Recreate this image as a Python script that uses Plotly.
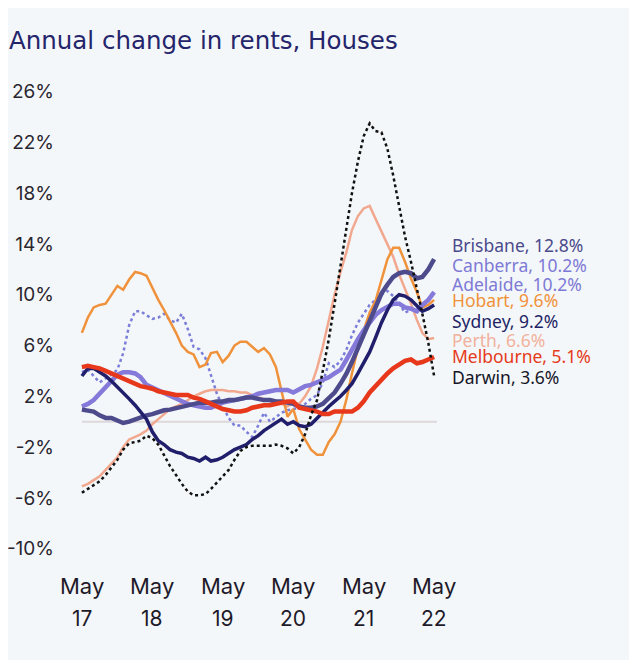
import pandas as pd
import plotly.graph_objects as go

months = pd.date_range("2017-05-01", "2022-05-01", freq="MS")

sydney = [3.6, 4.2, 4.2, 3.9, 3.6, 3.2, 2.7, 2.2, 1.8, 1.3,
          0.8, 0.2, -0.8, -1.5, -1.8, -2.2, -2.4, -2.5, -2.8, -2.9,
          -3.1, -2.8, -3.1, -3.0, -2.8, -2.5, -2.2, -2.0, -1.8, -1.4,
          -1.1, -0.7, -0.4, -0.1, 0.2, -0.2, 0.0, -0.3, -0.4, -0.2,
          0.3, 0.8, 1.2, 1.6, 2.0, 2.5, 3.0, 3.8, 4.7, 5.5,
          6.6, 7.8, 8.8, 9.6, 10.0, 9.9, 9.6, 9.1, 8.7, 8.9,
          9.2]
melbourne = [4.3, 4.4, 4.3, 4.2, 4.0, 3.8, 3.6, 3.4, 3.2, 3.0,
             2.8, 2.7, 2.6, 2.4, 2.3, 2.2, 2.1, 2.1, 2.1, 1.9,
             1.8, 1.6, 1.4, 1.2, 1.0, 0.9, 0.8, 0.8, 0.9, 1.1,
             1.2, 1.3, 1.3, 1.4, 1.5, 1.6, 1.6, 1.1, 1.0, 0.9,
             0.8, 0.6, 0.6, 0.8, 0.8, 0.8, 0.8, 1.1, 1.6, 2.3,
             2.8, 3.3, 3.8, 4.2, 4.5, 4.8, 4.9, 4.6, 4.7, 4.9,
             5.1]
hobart = [7.0, 8.2, 9.0, 9.2, 9.3, 10.0, 10.7, 10.4, 11.2, 11.8,
          11.7, 11.5, 10.5, 9.6, 8.8, 7.9, 7.0, 6.0, 5.5, 5.3,
          4.3, 4.5, 5.4, 5.5, 4.7, 5.2, 6.0, 6.3, 6.3, 5.9,
          5.5, 5.8, 5.3, 4.3, 2.3, 0.4, 1.0, -0.6, -1.4, -2.2,
          -2.6, -2.6, -1.6, -1.0, 0.0, 1.8, 3.8, 5.8, 7.2, 8.6,
          9.5, 11.2, 12.8, 13.7, 13.7, 12.6, 11.3, 10.2, 9.0, 9.2,
          9.6]
perth = [-5.1, -4.9, -4.6, -4.3, -3.8, -3.3, -2.8, -2.0, -1.4, -1.2,
         -1.0, -0.7, -0.2, 0.2, 0.6, 1.0, 1.2, 1.4, 1.7, 2.0,
         2.2, 2.4, 2.5, 2.5, 2.5, 2.4, 2.4, 2.3, 2.3, 2.1,
         1.9, 1.8, 1.6, 1.5, 1.4, 1.2, 1.5, 1.4, 2.0, 2.8,
         4.2, 5.9, 8.0, 10.0, 11.8, 13.4, 15.1, 16.2, 16.8, 17.0,
         16.0, 15.0, 14.0, 13.0, 11.6, 10.5, 9.3, 8.0, 7.0, 6.5,
         6.6]
darwin = [-5.6, -5.3, -5.0, -4.7, -4.2, -3.6, -3.0, -2.2, -1.7, -1.6,
          -1.5, -1.1, -1.3, -1.8, -2.6, -3.5, -4.2, -4.9, -5.5, -5.8,
          -5.8, -5.7, -5.3, -4.8, -4.3, -3.8, -3.0, -2.3, -2.0, -1.9,
          -1.9, -1.9, -1.9, -1.8, -1.9, -2.1, -2.5, -2.0, -1.0, 0.5,
          1.7, 4.0, 6.5, 9.3, 12.2, 15.3, 18.0, 20.5, 22.5, 23.5,
          22.9, 22.8, 21.5, 19.4, 17.0, 14.6, 12.6, 10.5, 8.5, 6.2,
          3.6]
brisbane = [0.95, 0.85, 0.8, 0.5, 0.3, 0.3, 0.1, -0.1, 0.0, 0.2,
            0.3, 0.5, 0.6, 0.8, 0.9, 0.95, 1.05, 1.15, 1.25, 1.4,
            1.5, 1.5, 1.5, 1.6, 1.6, 1.7, 1.7, 1.8, 1.9, 1.9,
            1.8, 1.7, 1.7, 1.6, 1.6, 1.5, 1.4, 1.2, 1.1, 1.1,
            1.2, 1.4, 1.8, 2.3, 3.0, 3.8, 4.7, 5.8, 7.0, 8.1,
            9.2, 10.1, 10.8, 11.4, 11.7, 11.8, 11.7, 11.3, 11.4, 12.0,
            12.8]
adelaide = [1.2, 1.4, 1.7, 2.2, 2.8, 3.3, 3.7, 3.9, 3.9, 3.8,
            3.5, 2.9, 2.7, 2.5, 2.3, 2.1, 1.9, 1.7, 1.4, 1.3,
            1.2, 1.1, 1.1, 1.3, 1.5, 1.6, 1.7, 1.8, 1.9, 2.0,
            2.2, 2.3, 2.4, 2.5, 2.5, 2.5, 2.3, 2.6, 2.8, 2.9,
            3.1, 3.3, 3.5, 3.8, 4.1, 4.9, 5.7, 6.5, 7.2, 7.8,
            8.4, 8.8, 9.1, 9.3, 9.3, 9.0, 8.9, 8.7, 9.2, 9.6,
            10.2]
canberra = [3.9, 4.1, 3.6, 3.1, 3.4, 3.7, 4.1, 5.4, 7.6, 8.7,
            8.7, 8.4, 8.1, 8.2, 8.5, 8.0, 7.8, 8.5, 7.3, 5.9,
            5.7, 5.0, 3.6, 2.2, 1.2, 0.3, -0.3, -0.3, -0.8, -1.2,
            -0.3, 0.7, 0.0, 0.4, 0.7, 0.9, 1.0, 1.1, 1.4, 1.8,
            2.1, 3.1, 4.6, 4.3, 4.8, 5.7, 6.8, 7.8, 8.5, 9.2,
            9.6, 10.0, 10.3, 9.9, 9.3, 8.6, 8.8, 8.9, 9.1, 9.6,
            10.2]

y_ticks = [26, 22, 18, 14, 10, 6, 2, -2, -6, -10]
x_tick_dates = ["2017-05-01", "2018-05-01", "2019-05-01", "2020-05-01", "2021-05-01", "2022-05-01"]
x_tick_month = ["May", "May", "May", "May", "May", "May"]
x_tick_year = ["17", "18", "19", "20", "21", "22"]

end_labels = ["Brisbane, 12.8%", "Canberra, 10.2%", "Adelaide, 10.2%", "Hobart, 9.6%",
              "Sydney, 9.2%", "Perth, 6.6%", "Melbourne, 5.1%", "Darwin, 3.6%"]
end_label_colors = ["#4b4a8c", "#7e7ad6", "#7e7ad6", "#f0923b",
                    "#221f66", "#f2b19c", "#e63a1a", "#151528"]

series = [
    ("Canberra", canberra, "#7b7ed8", 2.5, "dot"),
    ("Perth", perth, "#f1a88f", 2.5, "solid"),
    ("Hobart", hobart, "#f0923b", 2.5, "solid"),
    ("Adelaide", adelaide, "#8579da", 4.5, "solid"),
    ("Brisbane", brisbane, "#4d4b8c", 4.5, "solid"),
    ("Sydney", sydney, "#211e6c", 3.5, "solid"),
    ("Melbourne", melbourne, "#e8381b", 4.5, "solid"),
    ("Darwin", darwin, "#111111", 2.5, "dot"),
]

# page has an 8px body margin; figure coordinates are page coordinates minus 8
OFF = 8
W, H = 637 - OFF, 660 - OFF
ml, mr, mt, mb = 79 - OFF, 200, 79 - OFF, 86
plot_w = W - ml - mr
plot_h = H - mt - mb

def py_to_paper(page_y):
    return 1 - (page_y - OFF - mt) / plot_h

def px_to_paper(page_x):
    return (page_x - OFF - ml) / plot_w

end_label_rows = [245, 265, 284, 300, 321, 340, 356, 377]

fig = go.Figure()
for name, vals, col, w, dash in series:
    fig.add_trace(go.Scatter(x=months, y=vals, mode="lines", name=name,
                             line=dict(color=col, width=w, dash=dash),
                             showlegend=False, hoverinfo="skip"))

fig.add_shape(type="line", xref="x", yref="y", x0=months[0], x1=pd.Timestamp("2022-05-16"),
              y0=0, y1=0, line=dict(color="#ddd8da", width=2), layer="below")

for d, m, yv in zip(x_tick_dates, x_tick_month, x_tick_year):
    fig.add_annotation(x=d, xref="x", y=py_to_paper(586), yref="paper",
                       text=m, showarrow=False, xanchor="center", yanchor="middle",
                       font=dict(family="Inter", size=22, color="#1f1a2a"))
    fig.add_annotation(x=d, xref="x", y=py_to_paper(618), yref="paper",
                       text=yv, showarrow=False, xanchor="center", yanchor="middle",
                       font=dict(family="Inter", size=21, color="#1f1a2a"))

for txt, col, row in zip(end_labels, end_label_colors, end_label_rows):
    fig.add_annotation(x=px_to_paper(450), xref="paper",
                       y=py_to_paper(row), yref="paper",
                       text=txt, showarrow=False, xanchor="left", yanchor="middle",
                       font=dict(family="Noto Sans", size=17.5, color=col))

fig.update_layout(
    width=W, height=H,
    margin=dict(l=ml, r=mr, t=mt, b=mb, autoexpand=False),
    paper_bgcolor="#f4f7f9", plot_bgcolor="#f4f7f9",
    title=dict(text="Annual change in rents, Houses", x=(9 - OFF) / W, xref="container", xanchor="left",
               y=1 - (40 - OFF) / H, yref="container", yanchor="middle", automargin=False,
               font=dict(family="DejaVu Sans", size=24.5, color="#25256c")),
    xaxis=dict(range=["2017-04-16", "2022-05-16"], showgrid=False, zeroline=False,
               showticklabels=False, showline=False, ticks="", automargin=False),
    yaxis=dict(range=[-12, 27], tickvals=y_ticks, ticktext=[f"{v}%" for v in y_ticks],
               showgrid=False, zeroline=False, showline=False, ticks="", automargin=False,
               ticklabelstandoff=24,
               tickfont=dict(family="Inter", size=19, color="#2a2630")),
)

fig.write_html("out.html")
